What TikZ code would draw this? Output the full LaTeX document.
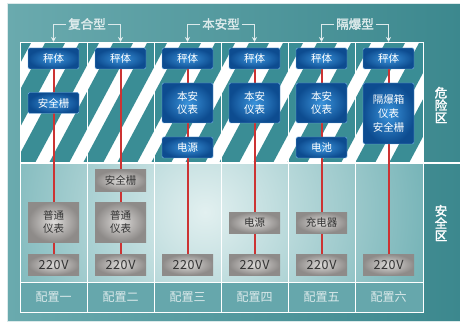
\documentclass[tikz,border=0pt]{standalone}
\usepackage{fontspec}
\newfontfamily\cjk{Noto Sans CJK SC}
\newfontfamily\cjkbold[FakeBold=2]{Noto Sans CJK SC}
\newfontfamily\volt[LetterSpace=5]{Noto Sans CJK SC}
\usetikzlibrary{arrows.meta}
\pgfdeclarelayer{bg}
\pgfdeclarelayer{wires}
\pgfsetlayers{bg,wires,main}
\definecolor{bgleft}{HTML}{6AAAAE}
\definecolor{bgright}{HTML}{3C888E}
\definecolor{stripe}{HTML}{3A8D95}
\definecolor{safe}{HTML}{6AADB1}
\definecolor{safelight}{HTML}{E2F0F0}
\definecolor{cfgrow}{HTML}{66A7AC}
\definecolor{boxin}{HTML}{3A93DB}
\definecolor{boxout}{HTML}{0D4C90}
\definecolor{grayin}{HTML}{DEDCDA}
\definecolor{grayout}{HTML}{8E8B89}
\definecolor{wire}{HTML}{CC3333}
\definecolor{soft}{HTML}{DCEAEB}
\tikzset{
  bluebox/.style={draw=boxin!70!white, line width=.4pt, rounded corners=1.5pt,
    inner color=boxin, outer color=boxout, text=white, minimum width=51pt,
    minimum height=21pt, inner sep=0pt, align=center,
    font=\cjk\fontsize{10.5}{13}\selectfont},
  graybox/.style={inner color=grayin, outer color=grayout, text=black!80,
    minimum width=51pt, minimum height=21pt, inner sep=0pt, align=center,
    font=\cjk\fontsize{10.5}{13}\selectfont},
  grouplabel/.style={text=soft, inner sep=2pt, font=\cjkbold\fontsize{12.5}{13}\selectfont},
  zonelabel/.style={text=white, align=center, font=\cjkbold\fontsize{12.5}{12.5}\selectfont},
  bracket/.style={draw=soft, line width=.6pt, -{Stealth[length=5pt,width=5pt,fill=white]}},
}
\begin{document}
\begin{tikzpicture}[x=1pt,y=-1pt]
	\useasboundingbox (0,0) rectangle (460,323);
	\begin{pgfonlayer}{bg}
	\fill [white] (0,0) rectangle (460,323);
	\shade [left color=bgleft, right color=bgright, draw=soft, line width=.5pt] (7.5,3.5) rectangle (460,321);
	\begin{scope}
		\clip (20,43) rectangle (423,163);
		\fill [white] (20,43) rectangle (423,163);
		\foreach \k in {-4,...,11}
		\fill [stripe] ({49+34*\k},163) -- ({69+34*\k},163) -- ({133+34*\k},43) -- ({113+34*\k},43) -- cycle;
	\end{scope}
	\begin{scope}
		\clip (20,163) rectangle (423,282);
		\fill [safe] (20,163) rectangle (423,282);
		\shade [inner color=safelight, outer color=safe] (205,212) circle (250);
	\end{scope}
	\fill [cfgrow] (20,282) rectangle (423,312);
	\draw [white, line width=1pt] (20,43) rectangle (423,312);
	\draw [white, line width=1.2pt] (20,163) -- (460,163);
	\draw [white, line width=1pt] (20,282) -- (423,282);
	\foreach \x in {87,154,221,288,355}
	\draw [white, line width=1pt] (\x,43) -- (\x,312);
	\end{pgfonlayer}
	\foreach \i in {1,...,6} {
		\coordinate (t\i) at ({53.5+67*(\i-1)},42);
		\node [bluebox] (s\i) at ({53.5+67*(\i-1)},58.5) {秤体};
		\node [graybox, font=\volt\fontsize{12.5}{13}\selectfont] (v\i) at ({53.5+67*(\i-1)},264.5) {220V};
	}
	\foreach \i/\n in {1/一,2/二,3/三,4/四,5/五,6/六}
	\node [text=soft, font=\cjk\fontsize{12}{13}\selectfont] (c\i) at ({53.5+67*(\i-1)},297) {配置\n};
	\node [bluebox] (b1) at (53.5,103) {安全栅};
	\node [bluebox, minimum height=40pt] (b3) at (187.5,103) {本安\\仪表};
	\node [bluebox] (p3) at (187.5,147.5) {电源};
	\node [bluebox, minimum height=40pt] (b4) at (254.5,103) {本安\\仪表};
	\node [bluebox, minimum height=40pt] (b5) at (321.5,103) {本安\\仪表};
	\node [bluebox] (p5) at (321.5,147.5) {电池};
	\node [bluebox, minimum height=61pt, font=\cjk\fontsize{10.5}{14}\selectfont] (b6) at (388.5,113.5) {隔爆箱\\仪表\\安全栅};
	\node [graybox] (g2) at (120.5,180.5) {安全栅};
	\node [graybox, minimum height=40pt] (m1) at (53.5,222) {普通\\仪表};
	\node [graybox, minimum height=40pt] (m2) at (120.5,222) {普通\\仪表};
	\node [graybox] (m4) at (254.5,222.5) {电源};
	\node [graybox] (m5) at (321.5,222.5) {充电器};
	\begin{pgfonlayer}{wires}
	\foreach \i in {1,...,6}
	\draw [draw=wire, line width=2pt] (s\i) -- (v\i);
	\end{pgfonlayer}
	\node [grouplabel] (f1) at (87,24) {复合型};
	\node [grouplabel] (f2) at (221,24) {本安型};
	\node [grouplabel] (f3) at (355,24) {隔爆型};
	\draw [bracket] (f1.west) -| (t1);
	\draw [bracket] (f1.east) -| (t2);
	\draw [bracket] (f2.west) -| (t3);
	\draw [bracket] (f2.east) -| (t4);
	\draw [bracket] (f3.west) -| (t5);
	\draw [bracket] (f3.east) -| (t6);
	\node [zonelabel] (danger) at (441,105) {危\\险\\区};
	\node [zonelabel] (safety) at (441,223) {安\\全\\区};
\end{tikzpicture}
\end{document}
